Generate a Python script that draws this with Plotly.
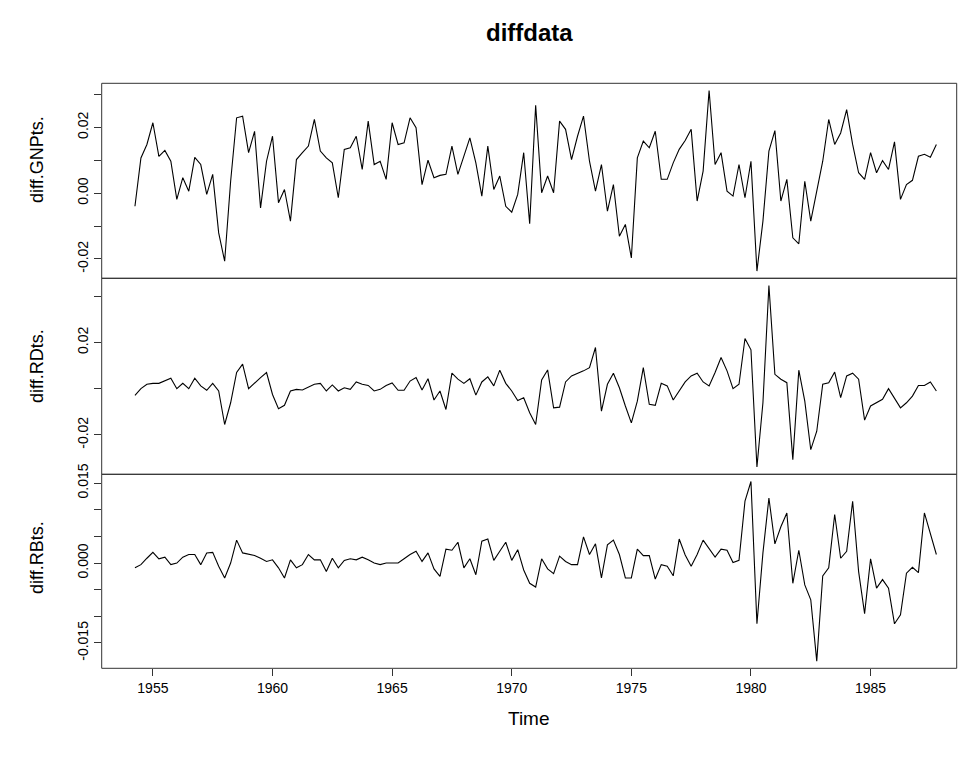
import plotly.graph_objects as go

start_year = 1954.25  # first quarter of the differenced series (1954 Q2)

gnp = [-0.0040, 0.0107, 0.0148, 0.0214, 0.0112, 0.0130, 0.0097, -0.0019, 0.0047, 0.0006,
       0.0109, 0.0087, -0.0004, 0.0057, -0.0121, -0.0207, 0.0036, 0.0229, 0.0234, 0.0123,
       0.0188, -0.0045, 0.0097, 0.0173, -0.0029, 0.0011, -0.0085, 0.0102, 0.0123, 0.0143,
       0.0224, 0.0128, 0.0107, 0.0092, -0.0014, 0.0133, 0.0138, 0.0173, 0.0072, 0.0219,
       0.0087, 0.0097, 0.0042, 0.0214, 0.0148, 0.0153, 0.0229, 0.0199, 0.0026, 0.0100,
       0.0047, 0.0054, 0.0057, 0.0143, 0.0057, 0.0112, 0.0168, 0.0092, -0.0009, 0.0143,
       0.0011, 0.0052, -0.0040, -0.0058, -0.0004, 0.0123, -0.0093, 0.0267, 0.0001, 0.0052,
       0.0001, 0.0219, 0.0194, 0.0102, 0.0173, 0.0234, 0.0097, 0.0006, 0.0087, -0.0055,
       0.0026, -0.0131, -0.0095, -0.0197, 0.0107, 0.0158, 0.0138, 0.0188, 0.0042, 0.0042,
       0.0092, 0.0133, 0.0160, 0.0194, -0.0024, 0.0067, 0.0312, 0.0087, 0.0123, 0.0006,
       -0.0009, 0.0087, -0.0014, 0.0097, -0.0237, -0.0085, 0.0128, 0.0190, -0.0024, 0.0042,
       -0.0136, -0.0154, 0.0036, -0.0085, 0.0006, 0.0097, 0.0224, 0.0148, 0.0183, 0.0254,
       0.0148, 0.0062, 0.0042, 0.0123, 0.0062, 0.0099, 0.0072, 0.0156, -0.0019, 0.0026,
       0.0039, 0.0112, 0.0118, 0.0109, 0.0148]

rd = [-0.0029, 0.0000, 0.0019, 0.0023, 0.0023, 0.0033, 0.0045, 0.0000, 0.0023, 0.0000,
      0.0045, 0.0012, -0.0007, 0.0023, -0.0010, -0.0155, -0.0061, 0.0070, 0.0106, 0.0000,
      0.0026, 0.0048, 0.0070, -0.0025, -0.0087, -0.0072, -0.0010, -0.0003, -0.0006, 0.0007,
      0.0019, 0.0023, -0.0010, 0.0016, -0.0010, 0.0004, -0.0003, 0.0029, 0.0019, 0.0014,
      -0.0010, -0.0003, 0.0014, 0.0025, -0.0007, -0.0007, 0.0033, 0.0048, -0.0006, 0.0043,
      -0.0049, -0.0010, -0.0090, 0.0067, 0.0041, 0.0023, 0.0043, -0.0028, 0.0029, 0.0051,
      0.0012, 0.0080, 0.0023, -0.0010, -0.0051, -0.0039, -0.0104, -0.0155, 0.0038, 0.0081,
      -0.0083, -0.0080, 0.0029, 0.0055, 0.0065, 0.0077, 0.0091, 0.0178, -0.0097, 0.0019,
      0.0067, 0.0004, -0.0075, -0.0148, -0.0054, 0.0091, -0.0068, -0.0072, 0.0023, 0.0012,
      -0.0049, -0.0010, 0.0029, 0.0055, 0.0067, 0.0029, 0.0012, 0.0070, 0.0135, 0.0077,
      0.0000, 0.0019, 0.0217, 0.0168, -0.0339, -0.0061, 0.0446, 0.0062, 0.0041, 0.0026,
      -0.0307, 0.0080, -0.0054, -0.0264, -0.0184, 0.0019, 0.0026, 0.0072, -0.0039, 0.0055,
      0.0067, 0.0041, -0.0136, -0.0075, -0.0061, -0.0046, 0.0000, -0.0039, -0.0083, -0.0061,
      -0.0032, 0.0014, 0.0014, 0.0029, -0.0010]

rb = [-0.0009, -0.0003, 0.0009, 0.0020, 0.0008, 0.0011, -0.0003, 0.0000, 0.0011, 0.0016,
      0.0016, -0.0003, 0.0019, 0.0020, -0.0006, -0.0028, 0.0000, 0.0043, 0.0019, 0.0016,
      0.0014, 0.0009, 0.0003, 0.0006, -0.0009, -0.0028, 0.0006, -0.0009, -0.0003, 0.0016,
      0.0006, 0.0006, -0.0016, 0.0009, -0.0009, 0.0005, 0.0008, 0.0006, 0.0011, 0.0006,
      0.0000, -0.0003, 0.0000, 0.0000, 0.0000, 0.0008, 0.0016, 0.0022, 0.0003, 0.0019,
      -0.0011, -0.0025, 0.0026, 0.0024, 0.0039, -0.0009, 0.0008, -0.0022, 0.0041, 0.0045,
      0.0005, 0.0022, 0.0039, 0.0005, 0.0025, -0.0013, -0.0038, -0.0045, 0.0008, -0.0011,
      -0.0020, 0.0013, 0.0003, -0.0003, -0.0003, 0.0049, 0.0016, 0.0036, -0.0028, 0.0034,
      0.0043, 0.0016, -0.0028, -0.0028, 0.0026, 0.0014, 0.0014, -0.0030, -0.0003, -0.0006,
      -0.0024, 0.0045, 0.0015, -0.0006, 0.0016, 0.0043, 0.0026, 0.0011, 0.0026, 0.0024,
      0.0001, 0.0005, 0.0116, 0.0153, -0.0114, 0.0019, 0.0122, 0.0036, 0.0068, 0.0094,
      -0.0038, 0.0024, -0.0041, -0.0069, -0.0184, -0.0024, -0.0009, 0.0091, 0.0009, 0.0022,
      0.0116, -0.0016, -0.0095, 0.0008, -0.0047, -0.0031, -0.0047, -0.0114, -0.0097, -0.0019,
      -0.0008, -0.0018, 0.0094, 0.0053, 0.0016]

series_names = ["diff.GNPts.", "diff.RDts.", "diff.RBts."]
x_tick_vals = [1955, 1960, 1965, 1970, 1975, 1980, 1985]
gnp_ticks = [-0.02, -0.01, 0.0, 0.01, 0.02, 0.03]
gnp_ticktext = ["-0.02", "", "0.00", "", "0.02", ""]
rd_ticks = [-0.02, 0.0, 0.02, 0.04]
rd_ticktext = ["-0.02", "", "0.02", ""]
rb_ticks = [-0.015, -0.010, -0.005, 0.0, 0.005, 0.010, 0.015]
rb_ticktext = ["-0.015", "", "", "0.000", "", "", "0.015"]

n = len(gnp)
time = [start_year + i / 4 for i in range(n)]

W, H = 959, 757
FONT = "Liberation Sans, Arial, sans-serif"
FRAME = "#333333"

def py(Y):
    return 1 - Y / H

x_dom = [101.7 / W, 956.7 / W]
x_range = [1952.86, 1988.60]
panels = [  # (data, ticks, text, top px, bottom px, label centre px)
    (gnp, gnp_ticks, gnp_ticktext, 83.3, 278.3, 160),
    (rd, rd_ticks, rd_ticktext, 278.3, 474.3, 366),
    (rb, rb_ticks, rb_ticktext, 474.3, 668.3, 558),
]

fig = go.Figure()
layout = dict(
    width=W, height=H,
    margin=dict(l=0, r=0, t=0, b=0),
    paper_bgcolor="white", plot_bgcolor="white",
    showlegend=False,
    font=dict(family=FONT, color="black", size=14),
)
annotations = []
shapes = []
for k, (vals, tv, tt, top, bot, lab_c) in enumerate(panels):
    idx = "" if k == 0 else str(k + 1)
    fig.add_trace(go.Scatter(x=time, y=vals, mode="lines",
                             line=dict(color="black", width=1.1),
                             xaxis="x" + idx, yaxis="y" + idx,
                             hoverinfo="skip"))
    lo, hi = min(vals), max(vals)
    pad = 0.04 * (hi - lo)
    bottom_panel = (k == 2)
    layout["xaxis" + idx] = dict(
        domain=x_dom, range=x_range, anchor="y" + idx,
        showline=False, showgrid=False, zeroline=False,
        ticks="outside" if bottom_panel else "",
        tickvals=x_tick_vals if bottom_panel else [],
        ticklen=7, tickcolor=FRAME, tickwidth=1,
        showticklabels=bottom_panel,
        tickfont=dict(size=14, family=FONT),
        automargin=False,
    )
    layout["yaxis" + idx] = dict(
        domain=[py(bot), py(top)], range=[lo - pad, hi + pad], anchor="x" + idx,
        showline=False, showgrid=False, zeroline=False,
        ticks="outside", ticklen=7, tickcolor=FRAME, tickwidth=1,
        tickvals=tv, ticktext=tt, tickangle=-90,
        tickfont=dict(size=14, family=FONT),
        automargin=False,
    )
    shapes.append(dict(type="rect", xref="paper", yref="paper",
                       x0=x_dom[0], x1=x_dom[1], y0=py(bot), y1=py(top),
                       line=dict(color=FRAME, width=1), fillcolor="rgba(0,0,0,0)",
                       layer="above"))
    annotations.append(dict(
        text=series_names[k], x=37 / W, y=py(lab_c),
        xref="paper", yref="paper", textangle=-90, showarrow=False,
        font=dict(size=18, family=FONT, color="black"),
        xanchor="center", yanchor="middle"))

annotations.append(dict(text="<b>diffdata</b>", x=529 / W, y=py(33), xref="paper", yref="paper",
                        showarrow=False, font=dict(size=24, family=FONT, color="black"),
                        xanchor="center", yanchor="middle"))
annotations.append(dict(text="Time", x=529 / W, y=py(718), xref="paper", yref="paper",
                        showarrow=False, font=dict(size=19, family=FONT, color="black"),
                        xanchor="center", yanchor="middle"))
layout["annotations"] = annotations
layout["shapes"] = shapes
fig.update_layout(**layout)
fig.write_html("out.html",
               config={"displayModeBar": False, "staticPlot": True},
               post_script="document.body.style.margin='0';document.body.style.overflow='hidden';")
